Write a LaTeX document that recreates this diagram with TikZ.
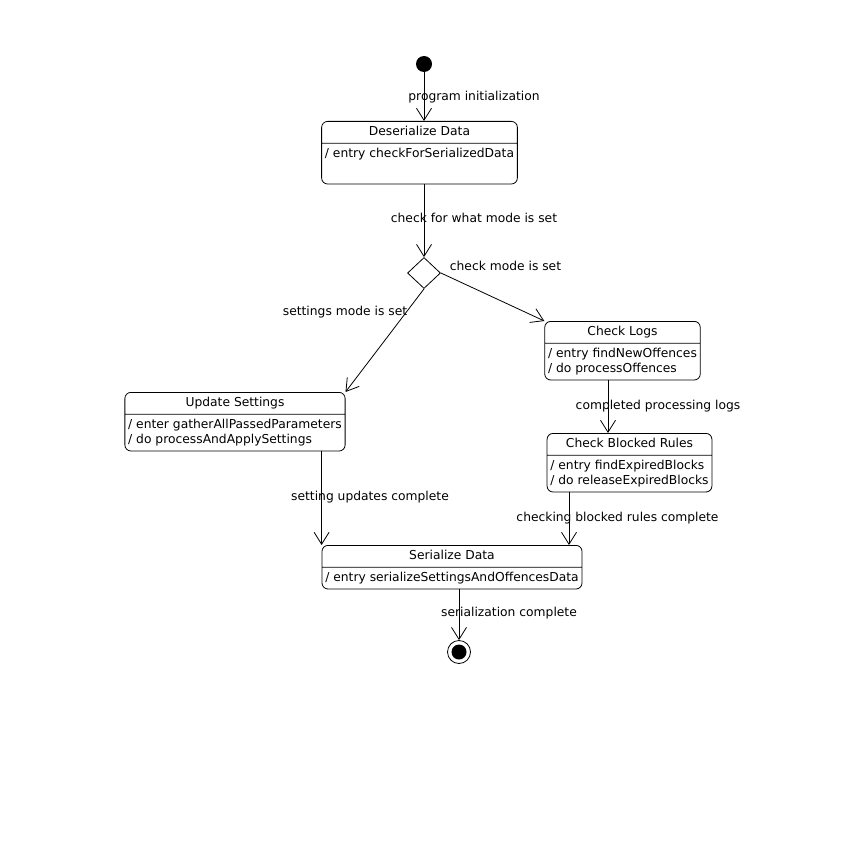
\documentclass[tikz,border=0pt]{standalone}
\usepackage{fontspec}
\setmainfont{DejaVu Sans}
\usetikzlibrary{shapes.geometric,shapes.multipart,arrows.meta}

\begin{document}
\begin{tikzpicture}[x=1pt,y=-1pt,
    font=\fontsize{12.3}{15}\selectfont,
    line width=0.8pt,
    state/.style={rectangle split, rectangle split parts=2, draw=black, rounded corners=6pt,
        align=left, rectangle split part align={center,left}, inner xsep=3.3pt, inner ysep=3pt, anchor=north},
    trans/.style={-{Straight Barb[length=12pt,width=15pt]}},
    lbl/.style={inner sep=0pt}]
    \useasboundingbox (0,0) rectangle (864,848);

    \node[shape=circle,fill=black,minimum size=16pt,inner sep=0pt] (init) at (424,64) {};
    \node[state] (deser) at (419.5,121) {\strut Deserialize Data\nodepart{two}\strut/ entry checkForSerializedData\\[4pt]\strut};
    \node[shape=diamond,draw=black,minimum width=33pt,minimum height=31pt,inner sep=0pt] (choice) at (424,273) {};
    \node[state] (logs) at (622.5,321) {\strut Check Logs\nodepart{two}\strut/ entry findNewOffences\\\strut/ do processOffences};
    \node[state] (update) at (235,392) {\strut Update Settings\nodepart{two}\strut/ enter gatherAllPassedParameters\\\strut/ do processAndApplySettings};
    \node[state] (blocked) at (629.5,433) {\strut Check Blocked Rules\nodepart{two}\strut/ entry findExpiredBlocks\\\strut/ do releaseExpiredBlocks};
    \node[state] (serial) at (452,545) {\strut Serialize Data\nodepart{two}\strut/ entry serializeSettingsAndOffencesData};
    \node[shape=circle,draw=black,minimum size=23pt,inner sep=0pt] (final) at (459,652) {};
    \node[shape=circle,fill=black,minimum size=15pt,inner sep=0pt] (finaldot) at (final) {};

    % transition labels
    \node[lbl] (lprog) at (474,97) {program initialization};
    \node[lbl] (lwhat) at (474,218) {check for what mode is set};
    \node[lbl] (lcheck) at (505.5,266) {check mode is set};
    \node[lbl] (lsettings) at (345,312) {settings mode is set};
    \node[lbl] (lprocessed) at (658,406) {completed processing logs};
    \node[lbl] (lupdated) at (370,497) {setting updates complete};
    \node[lbl] (lblocked) at (617.5,518) {checking blocked rules complete};
    \node[lbl] (lserial) at (509,613) {serialization complete};

    \draw[trans] (init) -- (init |- deser.north);
    \draw[trans] (choice.north |- deser.south) -- (choice.north);
    \draw[trans] (choice.east) -- (logs.north west);
    \draw[trans] (choice.south) -- (update.north east);
    \draw[trans] ([xshift=-14.5pt]logs.south) -- ([xshift=-14.5pt]logs.south |- blocked.north);
    \draw[trans] ([xshift=-60.5pt]blocked.south) -- ([xshift=-60.5pt]blocked.south |- serial.north);
    \draw[trans] (serial.north west |- update.south) -- (serial.north west);
    \draw[trans] ([xshift=7pt]serial.south) -- (final.north);
\end{tikzpicture}
\end{document}
